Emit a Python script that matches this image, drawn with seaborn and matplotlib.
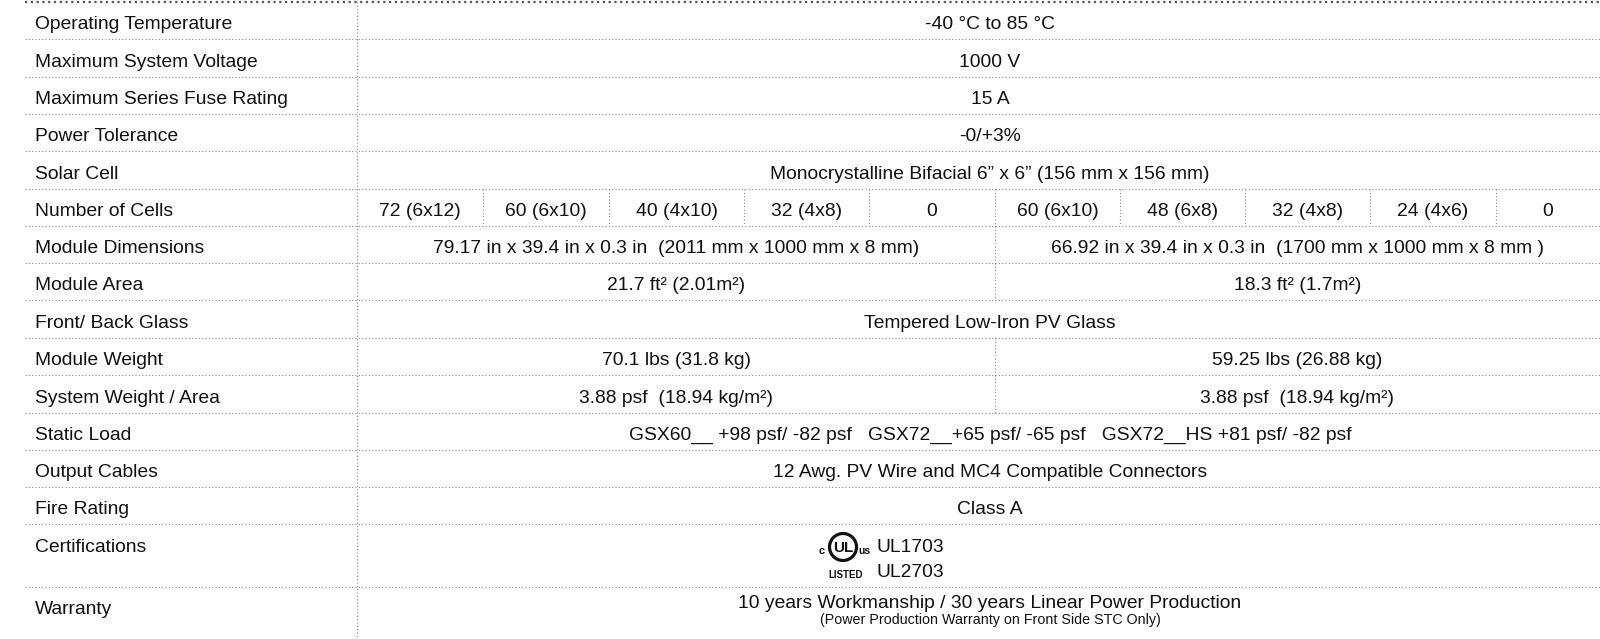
import matplotlib
matplotlib.use("Agg")
import matplotlib.pyplot as plt
import seaborn as sns
from matplotlib.patches import Circle

# ---------------- data ----------------
spec_labels = ["Operating Temperature", "Maximum System Voltage", "Maximum Series Fuse Rating",
               "Power Tolerance", "Solar Cell", "Number of Cells", "Module Dimensions",
               "Module Area", "Front/ Back Glass", "Module Weight", "System Weight / Area",
               "Static Load", "Output Cables", "Fire Rating", "Certifications", "Warranty"]

full_row_values = {
    0: "-40 °C to 85 °C",
    1: "1000 V",
    2: "15 A",
    3: "-0/+3%",
    4: "Monocrystalline Bifacial 6\u201d x 6\u201d (156 mm x 156 mm)",
    8: "Tempered Low-Iron PV Glass",
    11: "GSX60__ +98 psf/ -82 psf   GSX72__+65 psf/ -65 psf   GSX72__HS +81 psf/ -82 psf",
    12: "12 Awg. PV Wire and MC4 Compatible Connectors",
    13: "Class A",
}

cell_counts = ["72 (6x12)", "60 (6x10)", "40 (4x10)", "32 (4x8)", "0",
               "60 (6x10)", "48 (6x8)", "32 (4x8)", "24 (4x6)", "0"]

half_row_values = {
    6: ["79.17 in x 39.4 in x 0.3 in  (2011 mm x 1000 mm x 8 mm)",
        "66.92 in x 39.4 in x 0.3 in  (1700 mm x 1000 mm x 8 mm )"],
    7: ["21.7 ft\u00b2 (2.01m\u00b2)", "18.3 ft\u00b2 (1.7m\u00b2)"],
    9: ["70.1 lbs (31.8 kg)", "59.25 lbs (26.88 kg)"],
    10: ["3.88 psf  (18.94 kg/m\u00b2)", "3.88 psf  (18.94 kg/m\u00b2)"],
}

certifications = ["UL1703", "UL2703"]
warranty_main = "10 years Workmanship / 30 years Linear Power Production"
warranty_note = "(Power Production Warranty on Front Side STC Only)"

# ---------------- layout ----------------
W, H = 1600, 639
row_edges = [2, 39, 77, 114, 151, 189, 226, 263, 300, 338, 375, 413, 450, 487, 524, 587, 639]
x_left, x_div, x_mid, x_right = 25, 357, 995, 1600
cell_edges = [357, 483, 609, 744, 869, 995, 1120, 1245, 1370, 1496, 1600]
full_center = 990

sns.set_theme(style="white")
plt.rcParams["font.family"] = ["Liberation Sans", "DejaVu Sans"]

fig = plt.figure(figsize=(W / 100, H / 100), dpi=100)
ax = fig.add_axes([0, 0, 1, 1])
ax.set_xlim(0, W)
ax.set_ylim(H, 0)
ax.axis("off")

txt_color = "#111111"
line_color = "#8a8a8a"
fs = 13.9


def baseline(i):
    return row_edges[i + 1] - 10


# top border (heavier dots)
ax.hlines(row_edges[0], x_left, x_right, colors="#555555", linewidth=1.6,
          linestyles=(0, (1, 1.6)))
# row separators
ax.hlines(row_edges[1:-1], x_left, x_right, colors=line_color, linewidth=0.8,
          linestyles=(0, (1, 2)))
# main vertical divider
ax.vlines(x_div, row_edges[0], H, colors=line_color, linewidth=0.8, linestyles=(0, (1, 2)))

# labels
for i, lab in enumerate(spec_labels):
    y = baseline(i)
    if lab == "Certifications":
        y = 552
    if lab == "Warranty":
        y = 614
    ax.text(35, y, lab, fontsize=fs, color=txt_color, va="baseline", ha="left")

# full-width values
for i, val in full_row_values.items():
    ax.text(full_center, baseline(i), val, fontsize=fs, color=txt_color,
            va="baseline", ha="center")

# number of cells row
r = spec_labels.index("Number of Cells")
y0, y1 = row_edges[r], row_edges[r + 1]
ax.vlines(cell_edges[1:-1], y0, y1, colors=line_color, linewidth=0.8, linestyles=(0, (1, 2)))
for j, val in enumerate(cell_counts):
    xc = (cell_edges[j] + cell_edges[j + 1]) / 2
    ax.text(xc, baseline(r), val, fontsize=fs, color=txt_color, va="baseline", ha="center")

# half rows
for i, (left, right) in half_row_values.items():
    y0, y1 = row_edges[i], row_edges[i + 1]
    ax.vlines(x_mid, y0, y1, colors=line_color, linewidth=0.8, linestyles=(0, (1, 2)))
    ax.text((x_div + x_mid) / 2, baseline(i), left, fontsize=fs, color=txt_color,
            va="baseline", ha="center")
    ax.text((x_mid + x_right) / 2, baseline(i), right, fontsize=fs, color=txt_color,
            va="baseline", ha="center")

# certification logo (UL listed mark)
cx, cy = 843, 547
ax.add_patch(Circle((cx, cy), 13.5, fill=False, edgecolor="#111111", linewidth=2.3))
ax.text(cx, cy + 1, "UL", fontsize=11, fontweight="bold", color="#111111",
        va="center", ha="center", family=["Liberation Sans Narrow", "Liberation Sans"])
ax.text(cx - 21, cy + 4, "c", fontsize=8, fontweight="bold", color="#111111", va="center", ha="center")
ax.text(cx + 21, cy + 4, "us", fontsize=7.5, fontweight="bold", color="#111111", va="center", ha="center")
ax.text(cx + 3, cy + 28, "LISTED", fontsize=7, fontweight="bold", color="#111111",
        va="center", ha="center", family=["Liberation Sans Narrow", "Liberation Sans"])
for k, c in enumerate(certifications):
    ax.text(876, 552 + k * 25, c, fontsize=fs, color=txt_color, va="baseline", ha="left")

# warranty
ax.text(full_center, 608, warranty_main, fontsize=fs, color=txt_color, va="baseline", ha="center")
ax.text(full_center, 624, warranty_note, fontsize=10.3, color=txt_color, va="baseline", ha="center")

fig.savefig("out.png", dpi=100, facecolor="white")
